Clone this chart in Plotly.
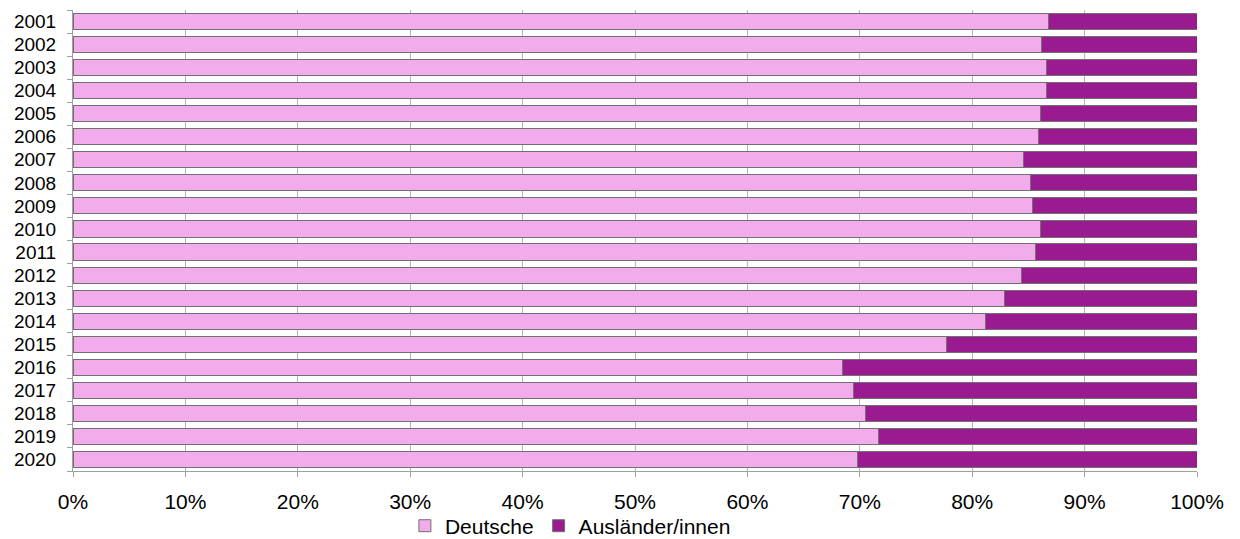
import plotly.graph_objects as go

# Anteil der Bevölkerung nach Staatsangehörigkeit, 2001-2020 (in %)
jahre = [str(y) for y in range(2001, 2021)]
deutsche = [86.8, 86.2, 86.6, 86.6, 86.1, 85.9, 84.6, 85.2, 85.4, 86.1,
            85.6, 84.4, 82.9, 81.2, 77.7, 68.5, 69.4, 70.5, 71.7, 69.8]
auslaender = [round(100 - d, 1) for d in deutsche]
x_ticks = list(range(0, 101, 10))
x_tick_labels = [f"{t}%" for t in x_ticks]

FONT = "Liberation Sans, Arial, sans-serif"
PINK = "#F2ACEC"
PURPLE = "#9A1B8F"
EDGE = "#707070"

fig = go.Figure()
fig.add_trace(go.Bar(
    y=jahre, x=deutsche, name="Deutsche", orientation="h",
    marker=dict(color=PINK, line=dict(color=EDGE, width=1)),
))
fig.add_trace(go.Bar(
    y=jahre, x=auslaender, name="Ausländer/innen", orientation="h",
    marker=dict(color=PURPLE, line=dict(color=EDGE, width=1)),
))

fig.update_layout(
    barmode="stack",
    bargap=0.3,
    width=1240, height=539,
    margin=dict(l=73, r=43, t=10, b=68, autoexpand=False),
    plot_bgcolor="white", paper_bgcolor="white",
    font=dict(family=FONT, color="#000000"),
    showlegend=True,
    legend=dict(
        orientation="h", x=0.46, xref="container", xanchor="center",
        y=0.024, yref="container", yanchor="middle",
        bgcolor="rgba(0,0,0,0)",
        font=dict(family=FONT, size=21), itemwidth=30,
        traceorder="normal",
    ),
)
fig.update_xaxes(
    range=[0, 100], tickvals=x_ticks, ticktext=x_tick_labels,
    tickfont=dict(family=FONT, size=21),
    showgrid=True, gridcolor="#B4B4B4", gridwidth=1,
    showline=True, linecolor="#A0A0A0", linewidth=1,
    ticks="outside", ticklen=5, tickcolor="#A0A0A0",
    ticklabelstandoff=7,
    zeroline=False,
)
fig.update_yaxes(
    autorange="reversed", type="category",
    tickmode="array", tickvals=jahre, ticktext=jahre,
    tickfont=dict(family=FONT, size=19),
    showline=True, linecolor="#A0A0A0", linewidth=1,
    ticks="outside", ticklen=5, tickcolor="#A0A0A0", tickson="boundaries",
    ticklabelstandoff=12,
    showgrid=False,
)

fig.write_html("out.html")
